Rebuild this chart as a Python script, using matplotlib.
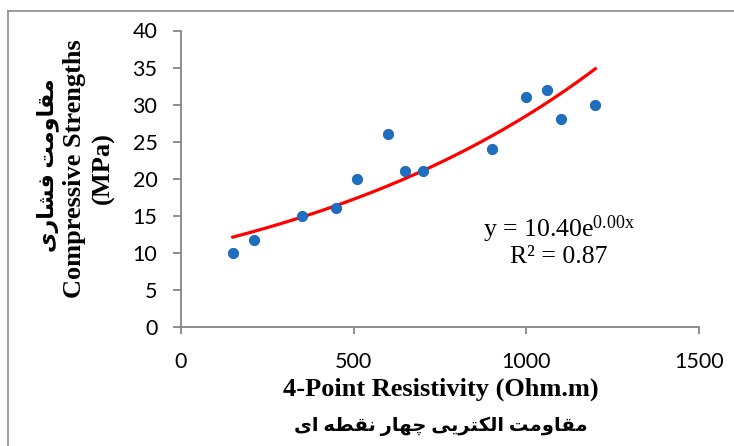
import numpy as np
import matplotlib
matplotlib.use("Agg")
import matplotlib.pyplot as plt
from matplotlib.lines import Line2D

# data
resistivity = [150, 210, 350, 450, 510, 600, 650, 700, 900, 1000, 1060, 1100, 1200]
strength = [10, 11.8, 15, 16, 20, 26, 21, 21, 24, 31, 32, 28, 30]
x_ticks = [0, 500, 1000, 1500]
y_ticks = [0, 5, 10, 15, 20, 25, 30, 35, 40]

eq_text = "y = 10.40e$^{0.00x}$"
r2_text = "R² = 0.87"
xlab_en = "4-Point Resistivity (Ohm.m)"
xlab_fa = "مقاومت الکتریی چهار نقطه ای"
ylab_en = "Compressive Strengths"
ylab_unit = "(MPa)"
ylab_fa = "مقاومت فشاری"

# matplotlib does no arabic shaping, so pick presentation forms by hand
# (isolated, final, initial, medial)
FORMS = {
    'ا': (0xFE8D, 0xFE8E, None, None),
    'ت': (0xFE95, 0xFE96, 0xFE97, 0xFE98),
    'ر': (0xFEAD, 0xFEAE, None, None),
    'ش': (0xFEB5, 0xFEB6, 0xFEB7, 0xFEB8),
    'ط': (0xFEC1, 0xFEC2, 0xFEC3, 0xFEC4),
    'ف': (0xFED1, 0xFED2, 0xFED3, 0xFED4),
    'ق': (0xFED5, 0xFED6, 0xFED7, 0xFED8),
    'ل': (0xFEDD, 0xFEDE, 0xFEDF, 0xFEE0),
    'م': (0xFEE1, 0xFEE2, 0xFEE3, 0xFEE4),
    'ن': (0xFEE5, 0xFEE6, 0xFEE7, 0xFEE8),
    'ه': (0xFEE9, 0xFEEA, 0xFEEB, 0xFEEC),
    'و': (0xFEED, 0xFEEE, None, None),
    'چ': (0xFB7A, 0xFB7B, 0xFB7C, 0xFB7D),
    'ک': (0xFB8E, 0xFB8F, 0xFB90, 0xFB91),
    'ی': (0xFBFC, 0xFBFD, 0xFBFE, 0xFBFF),
}


def shape(s):
    out = []
    for i, ch in enumerate(s):
        if ch not in FORMS:
            out.append(ch)
            continue
        f = FORMS[ch]
        prev = s[i - 1] if i > 0 else ''
        nxt = s[i + 1] if i + 1 < len(s) else ''
        join_prev = prev in FORMS and FORMS[prev][2] is not None
        join_next = f[2] is not None and nxt in FORMS
        if join_prev and join_next:
            c = f[3]
        elif join_prev:
            c = f[1]
        elif join_next:
            c = f[2]
        else:
            c = f[0]
        out.append(chr(c))
    return ''.join(reversed(out))


plt.rcParams['mathtext.fontset'] = 'custom'
plt.rcParams['mathtext.rm'] = 'Liberation Serif'
plt.rcParams['mathtext.it'] = 'Liberation Serif'

W, H = 734, 446
fig = plt.figure(figsize=(W / 100, H / 100), dpi=100)
ax = fig.add_axes([181 / W, 1 - 327 / H, 518 / W, 296.5 / H])

# exponential trendline (log-linear fit, like excel)
b, ln_a = np.polyfit(resistivity, np.log(strength), 1)
xs = np.linspace(min(resistivity), max(resistivity), 200)
ax.plot(xs, np.exp(ln_a) * np.exp(b * xs), color='#FF0000', lw=2.3, zorder=2)

ax.plot(resistivity, strength, 'o', ms=7.4, color='#1F6FC0',
        mec='#1A62AE', mew=0.6, zorder=3)

ax.set_xlim(0, 1500)
ax.set_ylim(0, 40)
ax.set_xticks(x_ticks)
ax.set_yticks(y_ticks)
for side in ('top', 'right'):
    ax.spines[side].set_visible(False)
for side in ('left', 'bottom'):
    ax.spines[side].set_color('#868686')
    ax.spines[side].set_linewidth(1.3)
ax.tick_params(direction='out', color='#868686', width=1.3, labelsize=15.5,
               labelcolor='#000000')
ax.tick_params(axis='y', length=6, pad=11)
ax.tick_params(axis='x', length=5, pad=13)
for lab in ax.get_xticklabels() + ax.get_yticklabels():
    lab.set_family('Lato')

serif = ['Liberation Serif', 'DejaVu Sans']
ax.text(1095, 13.2, eq_text, ha='center', va='center', fontsize=18.5,
        family='Liberation Serif')
ax.text(1095, 9.5, r2_text, ha='center', va='center', fontsize=18.5,
        family='Liberation Serif')

fig.text(441 / W, 1 - 389 / H, xlab_en, ha='center', va='center',
         fontsize=19, fontweight='bold', family=serif)
fig.text(441 / W, 1 - 426 / H, shape(xlab_fa), ha='center', va='center',
         fontsize=14, fontweight='bold', family=serif)
fig.text(75 / W, 1 - 169 / H, ylab_en, ha='center', va='center', rotation=90,
         fontsize=19, fontweight='bold', family=serif)
fig.text(103 / W, 1 - 168 / H, ylab_unit, ha='center', va='center', rotation=90,
         fontsize=19, fontweight='bold', family=serif)
fig.text(48 / W, 1 - 165 / H, shape(ylab_fa), ha='center', va='center',
         rotation=90, fontsize=16, fontweight='bold', family=serif)

# outer chart frame (left and top edges visible)
fig.add_artist(Line2D([7.5 / W, 7.5 / W], [0, 1 - 10.5 / H],
                      transform=fig.transFigure, color='#8C8C8C', lw=1.2))
fig.add_artist(Line2D([7.5 / W, 1], [1 - 10.5 / H, 1 - 10.5 / H],
                      transform=fig.transFigure, color='#8C8C8C', lw=1.2))

fig.savefig('out.png', dpi=100)
